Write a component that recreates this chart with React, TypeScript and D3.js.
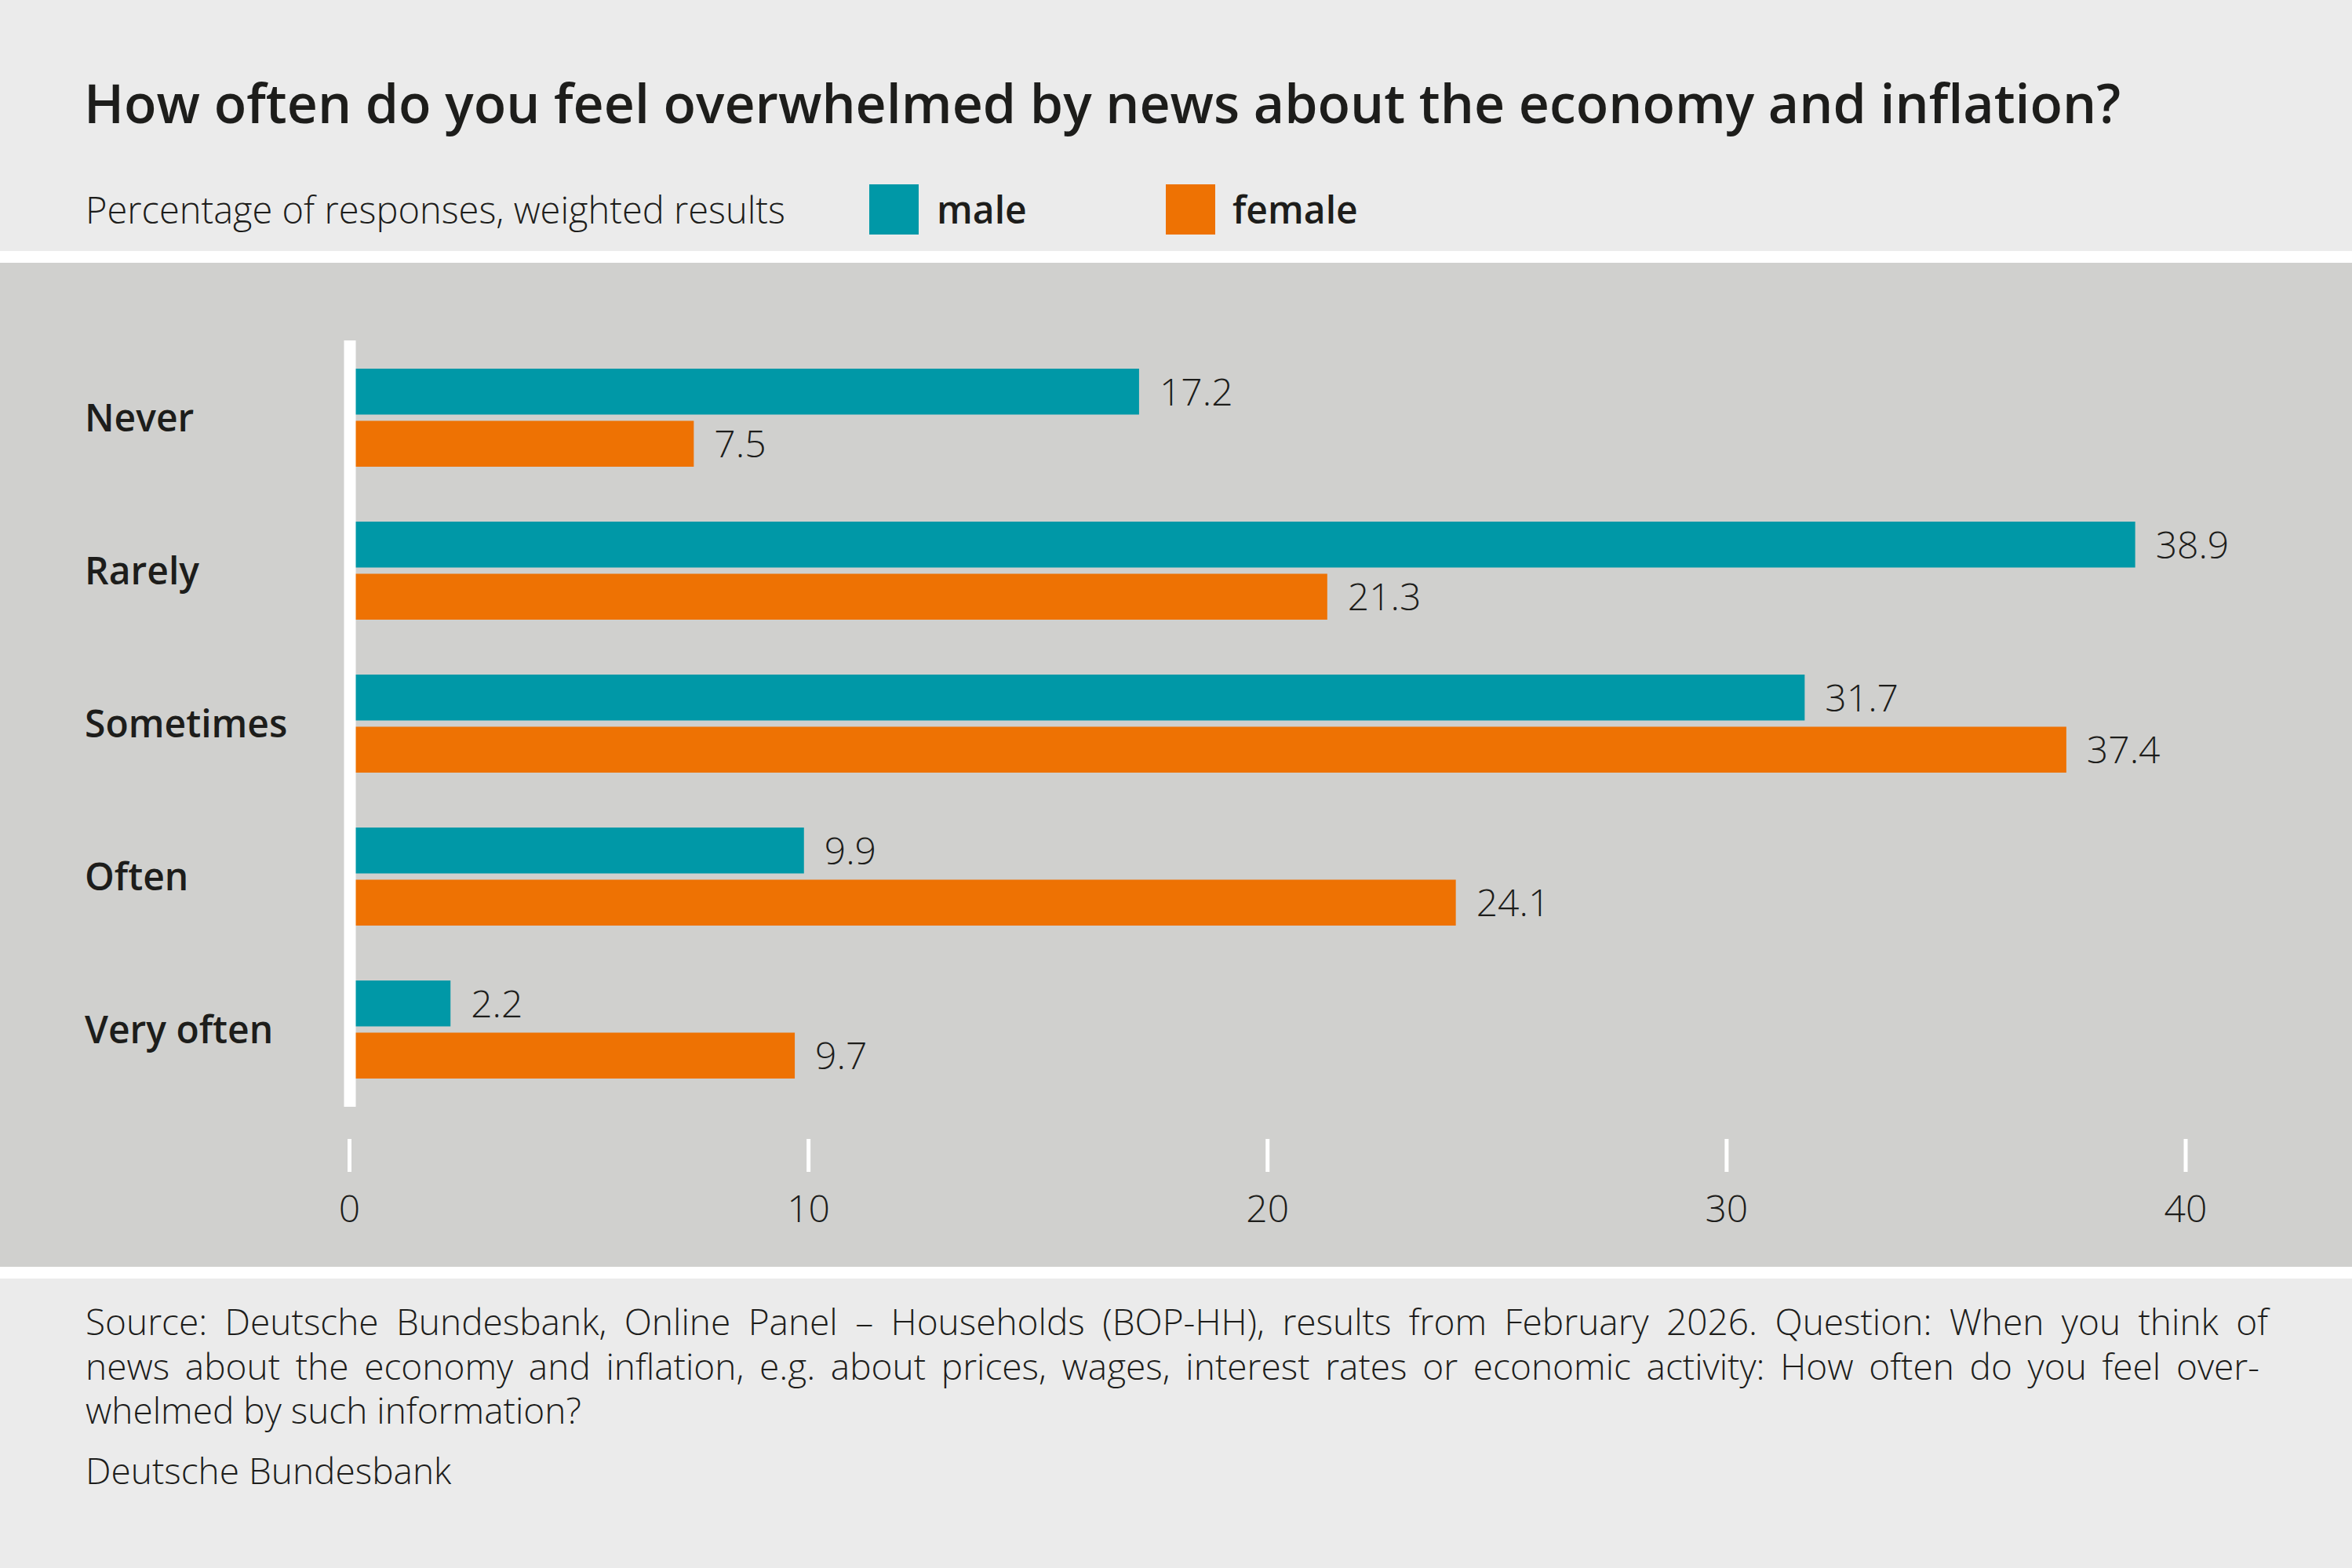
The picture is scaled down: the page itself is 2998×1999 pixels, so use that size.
import { useLayoutEffect, useRef } from 'react';
import { scaleBand, scaleLinear } from 'd3';

const WIDTH = 2998;
const HEIGHT = 1999;
const TEAL = '#0098a7';
const ORANGE = '#ee7203';
const PANEL = '#d0d0ce';
const PAPER = '#ebebeb';
const INK = '#1d1d1b';
const FONT = '"Open Sans", "Noto Sans", sans-serif';

const categories = ['Never', 'Rarely', 'Sometimes', 'Often', 'Very often'];
const seriesKeys = ['male', 'female'];
const maleValues = [17.2, 38.9, 31.7, 9.9, 2.2];
const femaleValues = [7.5, 21.3, 37.4, 24.1, 9.7];
const xTicks = [0, 10, 20, 30, 40];

const title = 'How often do you feel overwhelmed by news about the economy and inflation?';
const subtitle = 'Percentage of responses, weighted results';
const footerLines = [
  'Source: Deutsche Bundesbank, Online Panel \u2013 Households (BOP-HH), results from February 2026. Question: When you think of',
  'news about the economy and inflation, e.g. about prices, wages, interest rates or economic activity: How often do you feel over-',
  'whelmed by such information?',
];
const credit = 'Deutsche Bundesbank';

// right edge each footer line is justified to (null = ragged)
const footerJustify = [2891, 2880, null];
const FOOTER_X = 109;

export default function App() {
  const lineRefs = useRef<(SVGTSpanElement | null)[]>([]);

  useLayoutEffect(() => {
    const justify = () => {
      lineRefs.current.forEach((el, i) => {
        const right = footerJustify[i];
        if (!el || right == null) return;
        el.setAttribute('word-spacing', '0');
        const natural = el.getComputedTextLength();
        const spaces = (footerLines[i].match(/ /g) || []).length;
        el.setAttribute('word-spacing', String((right - FOOTER_X - natural) / spaces));
      });
    };
    justify();
    document.fonts?.ready.then(justify);
  }, []);

  const x = scaleLinear().domain([0, 40]).range([445.5, 2786]);
  const y = scaleBand<string>()
    .domain(categories)
    .range([435, 1410])
    .paddingInner(70 / 195)
    .paddingOuter(35 / 195);
  const ySub = scaleBand<string>()
    .domain(seriesKeys)
    .range([0, y.bandwidth()])
    .paddingInner(0.12);

  const series = [
    { key: 'male', values: maleValues, color: TEAL },
    { key: 'female', values: femaleValues, color: ORANGE },
  ];

  return (
    <svg
      width={WIDTH}
      height={HEIGHT}
      style={{ position: 'absolute', left: 0, top: 0, display: 'block' }}
      fontFamily={FONT}
    >
      {/* backgrounds */}
      <rect x={0} y={0} width={WIDTH} height={HEIGHT} fill={PAPER} />
      <rect x={0} y={320} width={WIDTH} height={15} fill="#fff" />
      <rect x={0} y={335} width={WIDTH} height={1280} fill={PANEL} />
      <rect x={0} y={1615} width={WIDTH} height={15} fill="#fff" />

      {/* title + legend */}
      <text x={107} y={157} fontSize={68} fontWeight={600} fill={INK}>{title}</text>
      <text x={109} y={285} fontSize={47} fontWeight={300} fill={INK}>{subtitle}</text>
      <rect x={1108} y={235} width={63} height={64} fill={TEAL} />
      <text x={1194} y={285} fontSize={48} fontWeight={600} fill={INK}>male</text>
      <rect x={1486} y={235} width={63} height={64} fill={ORANGE} />
      <text x={1571} y={285} fontSize={48} fontWeight={600} fill={INK}>female</text>

      {/* category labels */}
      {categories.map(c => (
        <text
          key={c}
          x={108}
          y={(y(c) ?? 0) + y.bandwidth() / 2}
          dy="0.36em"
          fontSize={48}
          fontWeight={600}
          fill={INK}
        >
          {c}
        </text>
      ))}

      {/* bars + value labels */}
      {series.map(s =>
        s.values.map((v, i) => {
          const top = (y(categories[i]) ?? 0) + (ySub(s.key) ?? 0);
          const h = ySub.bandwidth();
          return (
            <g key={`${s.key}-${i}`}>
              <rect x={x(0)} y={top} width={x(v) - x(0)} height={h} fill={s.color} />
              <text
                x={x(v) + 26}
                y={top + h / 2}
                dy="0.36em"
                fontSize={48}
                fontWeight={300}
                fill={INK}
              >
                {v.toFixed(1)}
              </text>
            </g>
          );
        })
      )}

      {/* zero line */}
      <rect x={x(0) - 7} y={434} width={15} height={977} fill="#fff" />

      {/* x axis ticks */}
      {xTicks.map(t => (
        <g key={t}>
          <rect x={x(t) - 2.5} y={1452} width={5} height={42} fill="#fff" />
          <text x={x(t)} y={1558} textAnchor="middle" fontSize={48} fontWeight={300} fill={INK}>
            {t}
          </text>
        </g>
      ))}

      {/* footer */}
      <text fontSize={46} fontWeight={300} fill={INK}>
        {footerLines.map((line, i) => (
          <tspan
            key={i}
            ref={el => { lineRefs.current[i] = el; }}
            x={FOOTER_X}
            y={1702 + i * 56.5}
          >
            {line}
          </tspan>
        ))}
      </text>
      <text x={FOOTER_X} y={1892} fontSize={46} fontWeight={300} fill={INK}>{credit}</text>
    </svg>
  );
}
